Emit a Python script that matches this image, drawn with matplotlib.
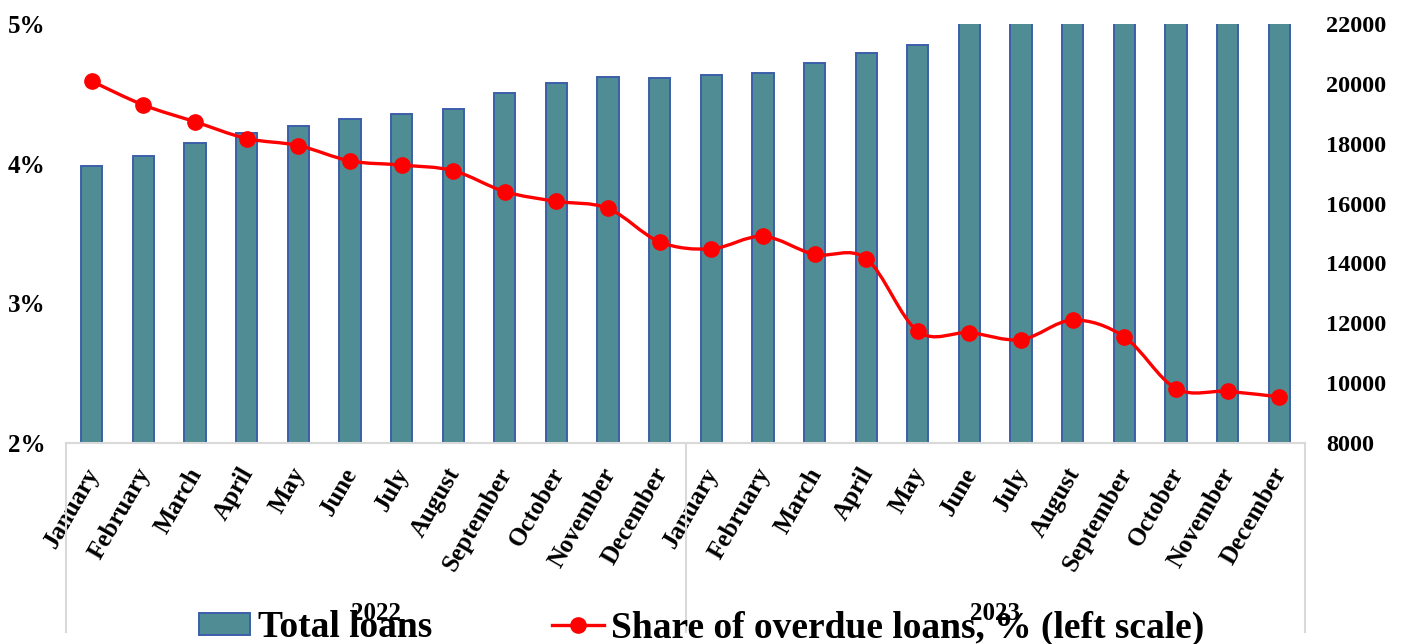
import numpy as np
import matplotlib
matplotlib.use("Agg")
import matplotlib.pyplot as plt
from matplotlib.path import Path
from matplotlib.patches import PathPatch, Rectangle
from matplotlib.lines import Line2D
import matplotlib.transforms as mtransforms

# ---------------- data ----------------
months = ["January", "February", "March", "April", "May", "June", "July",
          "August", "September", "October", "November", "December"]
years = ["2022", "2023"]
categories = months + months

total_loans = [17250, 17590, 18020, 18360, 18590, 18830, 18990, 19160,
               19690, 20030, 20230, 20200,
               20300, 20360, 20700, 21030, 21300, 22350, 22600, 22900,
               23300, 23500, 23900, 24400]
overdue_share = [4.59, 4.42, 4.30, 4.18, 4.13, 4.02, 3.99, 3.95,
                 3.80, 3.73, 3.68, 3.44,
                 3.39, 3.48, 3.35, 3.32, 2.80, 2.79, 2.74, 2.88,
                 2.76, 2.39, 2.37, 2.33]

left_ticks = [2, 3, 4, 5]
left_ticklabels = ["2%", "3%", "4%", "5%"]
right_ticks = [8000, 10000, 12000, 14000, 16000, 18000, 20000, 22000]

bar_label = "Total loans"
line_label = "Share of overdue loans, % (left scale)"

# ---------------- style ----------------
W, H = 1403, 644
SERIF = ["Liberation Serif", "DejaVu Serif"]
plt.rcParams["font.family"] = SERIF
plt.rcParams["font.weight"] = "bold"

BAR_COLOR = "#508C94"
BAR_EDGE = "#3B5FAA"
LINE_COLOR = "#FF0000"
GRID_GRAY = "#D9D9D9"

fig = plt.figure(figsize=(W / 100, H / 100), dpi=100)
x0, x1, y_top, y_bot = 66, 1305, 24, 443
ax = fig.add_axes([x0 / W, 1 - y_bot / H, (x1 - x0) / W, (y_bot - y_top) / H])
ax2 = ax.twinx()

x = np.arange(len(categories))

# bars on ax (right scale)
ax.bar(x, total_loans, width=0.41, color=BAR_COLOR, edgecolor=BAR_EDGE,
       linewidth=1.4, zorder=2)
ax.set_ylim(8000, 22000)
ax.set_xlim(-0.5, len(categories) - 0.5)
ax.yaxis.tick_right()
ax.set_yticks(right_ticks)
ax.set_yticklabels([str(t) for t in right_ticks])
ax.tick_params(axis="y", length=0, pad=15, labelsize=17.5)

# line on ax2 (left scale), smoothed with bezier segments
ax2.set_ylim(2, 5)
ax2.yaxis.tick_left()
ax2.set_yticks(left_ticks)
ax2.set_yticklabels(left_ticklabels)
ax2.tick_params(axis="y", length=0, pad=15, labelsize=18)

pts = np.column_stack([x, overdue_share]).astype(float)
n = len(pts)
verts = [pts[0]]
codes = [Path.MOVETO]
for i in range(n - 1):
    p_prev = pts[i - 1] if i > 0 else pts[i]
    p0 = pts[i]
    p1 = pts[i + 1]
    p_next = pts[i + 2] if i + 2 < n else pts[i + 1]
    c1 = p0 + (p1 - p_prev) / 6.0
    c2 = p1 - (p_next - p0) / 6.0
    verts += [c1, c2, p1]
    codes += [Path.CURVE4] * 3
ax2.add_patch(PathPatch(Path(verts, codes), fill=False, edgecolor=LINE_COLOR,
                        linewidth=2.4, zorder=3, capstyle="round", joinstyle="round"))
ax2.plot(x, overdue_share, linestyle="none", marker="o", markersize=11,
         color=LINE_COLOR, zorder=4)

for a in (ax, ax2):
    for s in a.spines.values():
        s.set_visible(False)
ax.spines["bottom"].set_visible(True)
ax.spines["bottom"].set_color(GRID_GRAY)
ax.spines["bottom"].set_linewidth(1.5)

# x tick labels
ax.set_xticks(x)
ax.set_xticklabels(categories, rotation=60, ha="right", va="center",
                   rotation_mode="anchor", fontsize=18, fontweight="bold")
ax.tick_params(axis="x", length=0, pad=19)
offset = mtransforms.ScaledTranslation(2 / 100, 0, fig.dpi_scale_trans)
for lbl in ax.get_xticklabels():
    lbl.set_transform(lbl.get_transform() + offset)

# category group separators
trans = ax.get_xaxis_transform()
bottom_frac = -(632 - y_bot) / (y_bot - y_top)
for bx in [-0.5, 11.5, 23.5]:
    ax.add_line(Line2D([bx, bx], [0, bottom_frac], transform=trans,
                       color=GRID_GRAY, linewidth=1.5, clip_on=False))
year_y = -(613 - y_bot) / (y_bot - y_top)
for k, yr in enumerate(years):
    ax.text(k * 12 + 5.5, year_y, yr, transform=trans, ha="center", va="center",
            fontsize=18, fontweight="bold", clip_on=False)

# legend
handles = [Rectangle((0, 0), 1, 1, facecolor=BAR_COLOR, edgecolor=BAR_EDGE, linewidth=1.4),
           Line2D([], [], color=LINE_COLOR, linewidth=2.4, marker="o", markersize=11)]
fig.legend(handles, [bar_label, line_label], loc="center",
           bbox_to_anchor=(0.5, (H - 628) / H), ncol=2, frameon=False,
           prop={"family": SERIF, "weight": "bold", "size": 27},
           handlelength=1.38, handleheight=0.55, handletextpad=0.2,
           columnspacing=3.2, borderpad=0)

fig.savefig("out.png", dpi=100)
